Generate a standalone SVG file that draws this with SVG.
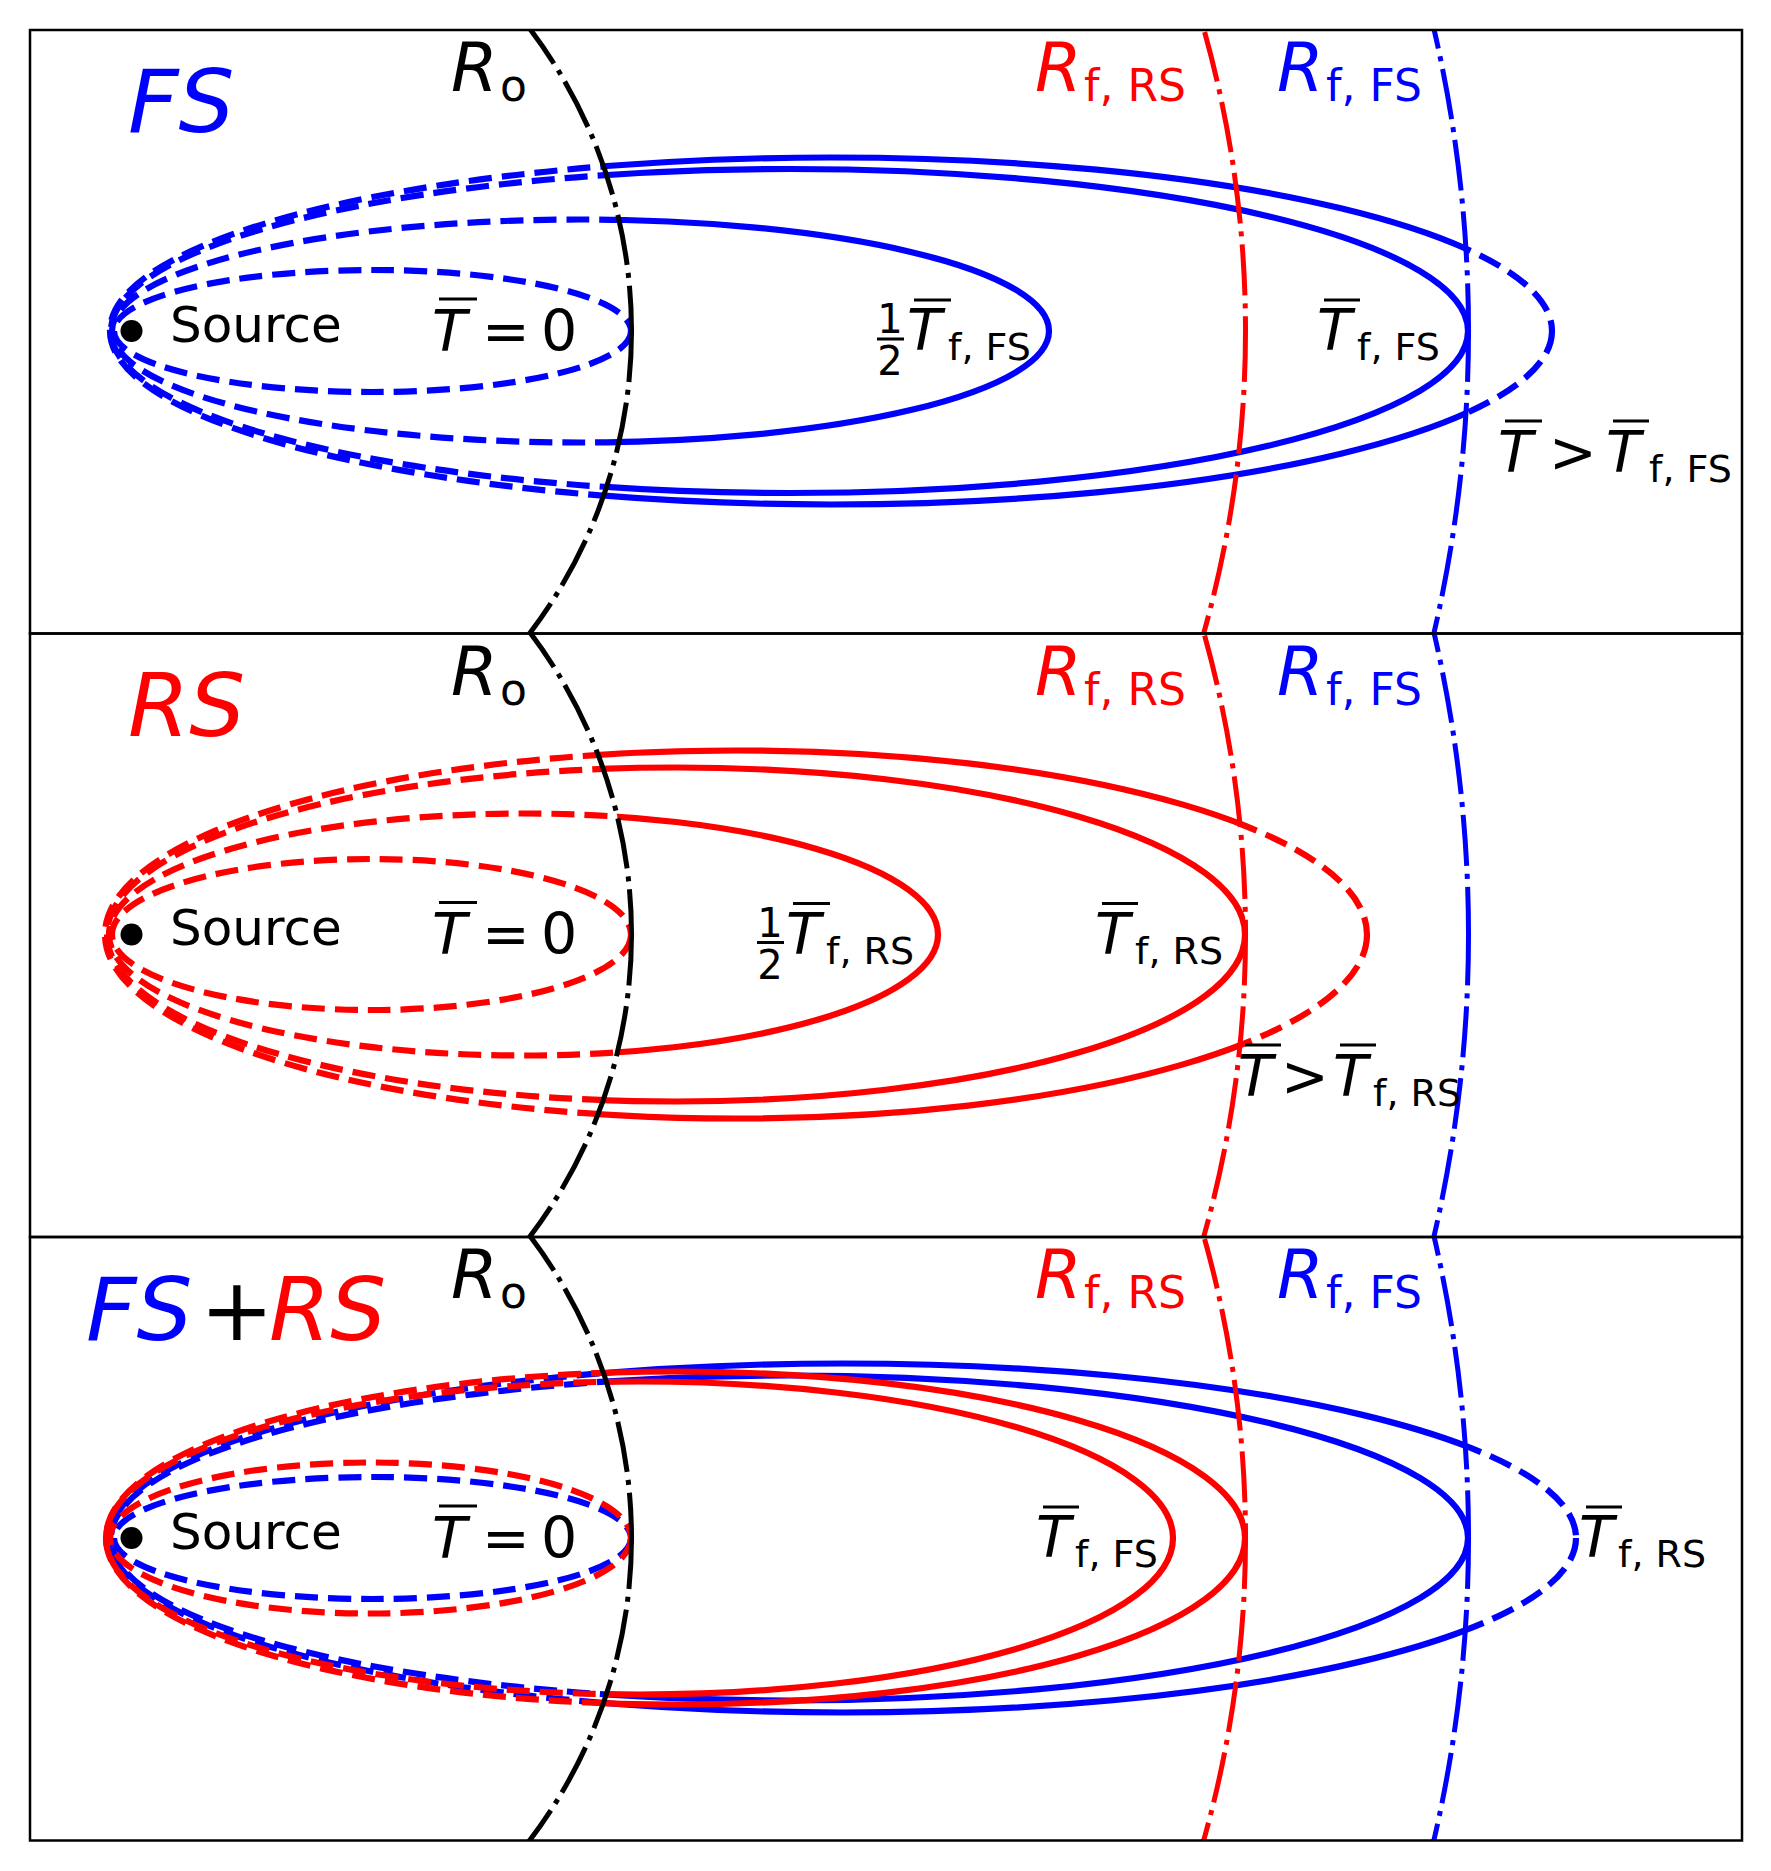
<svg xmlns="http://www.w3.org/2000/svg" width="1771" height="1871" viewBox="0 0 1771 1871">
<style>
.bg{fill:#ffffff}
.frame{fill:none;stroke:#000;stroke-width:2.5}
.c{fill:none;stroke-width:6.2}
.b{stroke:#0000ff}
.r{stroke:#ff0000}
.k{stroke:#000}
.dash{stroke-dasharray:23 10}
.dd{fill:none;stroke-width:5;stroke-dasharray:51 8 5 8}
.t{font-family:'DejaVu Sans',sans-serif;fill:#000}
.it{font-style:italic}
.big{font-size:88px}
.rl{font-size:67px}
.rs{font-size:44px}
.tl{font-size:57px}
.ts{font-size:38px}
.fr{font-size:40px}
.src{font-size:50px}
.ol{stroke:#000;stroke-width:3}
.fb{fill:#0000ff}
.fr2{fill:#ff0000}
</style>
<defs>
<clipPath id="panelClip"><rect x="30" y="-301" width="1712" height="603.5"/></clipPath>
<clipPath id="solidB"><path clip-rule="evenodd" d="M131.5,-1337a1337,1337 0 1,0 0,2674a1337,1337 0 1,0 0,-2674ZM131.5,-500a500,500 0 1,0 0,1000a500,500 0 1,0 0,-1000Z"/></clipPath>
<clipPath id="dashB"><path clip-rule="evenodd" d="M-2000,-2000H4000V2000H-2000ZM131.5,-1337a1337,1337 0 1,0 0,2674a1337,1337 0 1,0 0,-2674ZM131.5,-500a500,500 0 1,0 0,1000a500,500 0 1,0 0,-1000Z"/></clipPath>
<clipPath id="solidR"><path clip-rule="evenodd" d="M131.5,-1114a1114,1114 0 1,0 0,2228a1114,1114 0 1,0 0,-2228ZM131.5,-500a500,500 0 1,0 0,1000a500,500 0 1,0 0,-1000Z"/></clipPath>
<clipPath id="dashR"><path clip-rule="evenodd" d="M-2000,-2000H4000V2000H-2000ZM131.5,-1114a1114,1114 0 1,0 0,2228a1114,1114 0 1,0 0,-2228ZM131.5,-500a500,500 0 1,0 0,1000a500,500 0 1,0 0,-1000Z"/></clipPath>
</defs>
<rect class="bg" x="0" y="0" width="1771" height="1871"/>

<!-- Panel 1: FS -->
<g id="panel-fs" transform="translate(0,331)">
  <g id="fs-curves">
    <g clip-path="url(#dashB)">
      <ellipse class="c b dash" cx="372.5" cy="0" rx="258.5" ry="61"/>
      <ellipse class="c b dash" cx="580.5" cy="0" rx="468.5" ry="111.5"/>
      <ellipse class="c b dash" cx="789.5" cy="0" rx="678.5" ry="162"/>
      <ellipse class="c b dash" cx="831" cy="0" rx="721" ry="173.5"/>
    </g>
    <g clip-path="url(#solidB)">
      <ellipse class="c b" cx="372.5" cy="0" rx="258.5" ry="61"/>
      <ellipse class="c b" cx="580.5" cy="0" rx="468.5" ry="111.5"/>
      <ellipse class="c b" cx="789.5" cy="0" rx="678.5" ry="162"/>
      <ellipse class="c b" cx="831" cy="0" rx="721" ry="173.5"/>
    </g>
  </g>
  <g id="fs-radii" clip-path="url(#panelClip)">
    <circle class="dd k" cx="131.5" cy="0" r="500"/>
    <circle class="dd r" cx="131.5" cy="0" r="1114"/>
    <circle class="dd b" cx="131.5" cy="0" r="1337"/>
  </g>
  <g id="fs-source">
    <circle cx="131.5" cy="0" r="11" fill="#000"/>
    <text class="t src" x="170" y="10.5">Source</text>
  </g>
  <text class="t it big fb" x="128" y="-199">FS</text>
  <g id="fs-ro"><text class="t it rl" x="451" y="-240">R</text><text class="t rs" x="500" y="-230">o</text></g>
  <g id="fs-rfrs"><text class="t it rl fr2" x="1035" y="-240">R</text><text class="t rs fr2" x="1084" y="-230">f, RS</text></g>
  <g id="fs-rffs"><text class="t it rl fb" x="1277" y="-240">R</text><text class="t rs fb" x="1326" y="-230">f, FS</text></g>
  <g id="fs-t0">
    <line class="ol" x1="439" y1="-32" x2="477" y2="-32"/>
    <text class="t it tl" x="432" y="19.5">T</text>
    <text class="t tl" x="482" y="19.5">=</text>
    <text class="t tl" x="541" y="19.5">0</text>
  </g>
  <g id="fs-half">
    <text class="t fr" x="890" y="2" text-anchor="middle">1</text>
    <line class="ol" x1="877" y1="8" x2="904" y2="8"/>
    <text class="t fr" x="890" y="44" text-anchor="middle">2</text>
    <line class="ol" x1="914" y1="-31" x2="951" y2="-31"/>
    <text class="t it tl" x="907" y="19">T</text>
    <text class="t ts" x="948" y="29">f, FS</text>
  </g>
  <g id="fs-tf">
    <line class="ol" x1="1324" y1="-31" x2="1360" y2="-31"/>
    <text class="t it tl" x="1317" y="19">T</text>
    <text class="t ts" x="1357" y="29">f, FS</text>
  </g>
  <g id="fs-tgt">
    <line class="ol" x1="1505" y1="90" x2="1542" y2="90"/>
    <text class="t it tl" x="1498" y="141">T</text>
    <text class="t tl" x="1549" y="141">&gt;</text>
    <line class="ol" x1="1613" y1="90" x2="1649" y2="90"/>
    <text class="t it tl" x="1606" y="141">T</text>
    <text class="t ts" x="1649" y="151">f, FS</text>
  </g>
  <rect class="frame" x="30" y="-301" width="1712" height="603.5"/>
</g>

<!-- Panel 2: RS -->
<g id="panel-rs" transform="translate(0,934.5)">
  <g id="rs-curves">
    <g clip-path="url(#dashR)">
      <ellipse class="c r dash" cx="371.5" cy="0" rx="259.5" ry="75.5"/>
      <ellipse class="c r dash" cx="523.5" cy="0" rx="414.5" ry="121"/>
      <ellipse class="c r dash" cx="676" cy="0" rx="569" ry="167"/>
      <ellipse class="c r dash" cx="736" cy="0" rx="631" ry="184"/>
    </g>
    <g clip-path="url(#solidR)">
      <ellipse class="c r" cx="371.5" cy="0" rx="259.5" ry="75.5"/>
      <ellipse class="c r" cx="523.5" cy="0" rx="414.5" ry="121"/>
      <ellipse class="c r" cx="676" cy="0" rx="569" ry="167"/>
      <ellipse class="c r" cx="736" cy="0" rx="631" ry="184"/>
    </g>
  </g>
  <g id="rs-radii" clip-path="url(#panelClip)">
    <circle class="dd k" cx="131.5" cy="0" r="500"/>
    <circle class="dd r" cx="131.5" cy="0" r="1114"/>
    <circle class="dd b" cx="131.5" cy="0" r="1337"/>
  </g>
  <g id="rs-source">
    <circle cx="131.5" cy="0" r="11" fill="#000"/>
    <text class="t src" x="170" y="10.5">Source</text>
  </g>
  <text class="t it big fr2" x="128" y="-199">RS</text>
  <g id="rs-ro"><text class="t it rl" x="451" y="-240">R</text><text class="t rs" x="500" y="-230">o</text></g>
  <g id="rs-rfrs"><text class="t it rl fr2" x="1035" y="-240">R</text><text class="t rs fr2" x="1084" y="-230">f, RS</text></g>
  <g id="rs-rffs"><text class="t it rl fb" x="1277" y="-240">R</text><text class="t rs fb" x="1326" y="-230">f, FS</text></g>
  <g id="rs-t0">
    <line class="ol" x1="439" y1="-32" x2="477" y2="-32"/>
    <text class="t it tl" x="432" y="19.5">T</text>
    <text class="t tl" x="482" y="19.5">=</text>
    <text class="t tl" x="541" y="19.5">0</text>
  </g>
  <g id="rs-half">
    <text class="t fr" x="770" y="2" text-anchor="middle">1</text>
    <line class="ol" x1="757" y1="8" x2="784" y2="8"/>
    <text class="t fr" x="770" y="44" text-anchor="middle">2</text>
    <line class="ol" x1="793" y1="-31" x2="830" y2="-31"/>
    <text class="t it tl" x="786" y="19">T</text>
    <text class="t ts" x="826" y="29">f, RS</text>
  </g>
  <g id="rs-tf">
    <line class="ol" x1="1102" y1="-31" x2="1138" y2="-31"/>
    <text class="t it tl" x="1095" y="19">T</text>
    <text class="t ts" x="1135" y="29">f, RS</text>
  </g>
  <g id="rs-tgt">
    <line class="ol" x1="1245" y1="110.5" x2="1281" y2="110.5"/>
    <text class="t it tl" x="1238" y="161.5">T</text>
    <text class="t tl" x="1281" y="161.5">&gt;</text>
    <line class="ol" x1="1340" y1="110.5" x2="1376" y2="110.5"/>
    <text class="t it tl" x="1333" y="161.5">T</text>
    <text class="t ts" x="1373" y="171.5">f, RS</text>
  </g>
  <rect class="frame" x="30" y="-301" width="1712" height="603.5"/>
</g>

<!-- Panel 3: FS + RS -->
<g id="panel-fsrs" transform="translate(0,1538)">
  <g id="fsrs-curves">
    <g clip-path="url(#dashB)">
      <ellipse class="c b dash" cx="372.5" cy="0" rx="258.5" ry="61"/>
      <ellipse class="c b dash" cx="789.5" cy="0" rx="678.5" ry="162.5"/>
      <ellipse class="c b dash" cx="843" cy="0" rx="733" ry="174.5"/>
    </g>
    <g clip-path="url(#solidB)">
      <ellipse class="c b" cx="372.5" cy="0" rx="258.5" ry="61"/>
      <ellipse class="c b" cx="789.5" cy="0" rx="678.5" ry="162.5"/>
      <ellipse class="c b" cx="843" cy="0" rx="733" ry="174.5"/>
    </g>
    <g clip-path="url(#dashR)">
      <ellipse class="c r dash" cx="370.5" cy="0" rx="260.5" ry="75.5"/>
      <ellipse class="c r dash" cx="639.5" cy="0" rx="533.5" ry="156.5"/>
      <ellipse class="c r dash" cx="675.5" cy="0" rx="569.5" ry="166.5"/>
    </g>
    <g clip-path="url(#solidR)">
      <ellipse class="c r" cx="370.5" cy="0" rx="260.5" ry="75.5"/>
      <ellipse class="c r" cx="639.5" cy="0" rx="533.5" ry="156.5"/>
      <ellipse class="c r" cx="675.5" cy="0" rx="569.5" ry="166.5"/>
    </g>
  </g>
  <g id="fsrs-radii" clip-path="url(#panelClip)">
    <circle class="dd k" cx="131.5" cy="0" r="500"/>
    <circle class="dd r" cx="131.5" cy="0" r="1114"/>
    <circle class="dd b" cx="131.5" cy="0" r="1337"/>
  </g>
  <g id="fsrs-source">
    <circle cx="131.5" cy="0" r="11" fill="#000"/>
    <text class="t src" x="170" y="10.5">Source</text>
  </g>
  <g id="fsrs-title">
    <text class="t it big fb" x="86" y="-198.5">FS</text>
    <text class="t big" x="200" y="-198.5">+</text>
    <text class="t it big fr2" x="269" y="-198.5">RS</text>
  </g>
  <g id="fsrs-ro"><text class="t it rl" x="451" y="-240">R</text><text class="t rs" x="500" y="-230">o</text></g>
  <g id="fsrs-rfrs"><text class="t it rl fr2" x="1035" y="-240">R</text><text class="t rs fr2" x="1084" y="-230">f, RS</text></g>
  <g id="fsrs-rffs"><text class="t it rl fb" x="1277" y="-240">R</text><text class="t rs fb" x="1326" y="-230">f, FS</text></g>
  <g id="fsrs-t0">
    <line class="ol" x1="439" y1="-32" x2="477" y2="-32"/>
    <text class="t it tl" x="432" y="19.5">T</text>
    <text class="t tl" x="482" y="19.5">=</text>
    <text class="t tl" x="541" y="19.5">0</text>
  </g>
  <g id="fsrs-tffs">
    <line class="ol" x1="1043" y1="-31" x2="1079" y2="-31"/>
    <text class="t it tl" x="1036" y="19">T</text>
    <text class="t ts" x="1075" y="29">f, FS</text>
  </g>
  <g id="fsrs-tfrs">
    <line class="ol" x1="1586" y1="-31" x2="1622" y2="-31"/>
    <text class="t it tl" x="1579" y="19">T</text>
    <text class="t ts" x="1618" y="29">f, RS</text>
  </g>
  <rect class="frame" x="30" y="-301" width="1712" height="603.5"/>
</g>
</svg>
